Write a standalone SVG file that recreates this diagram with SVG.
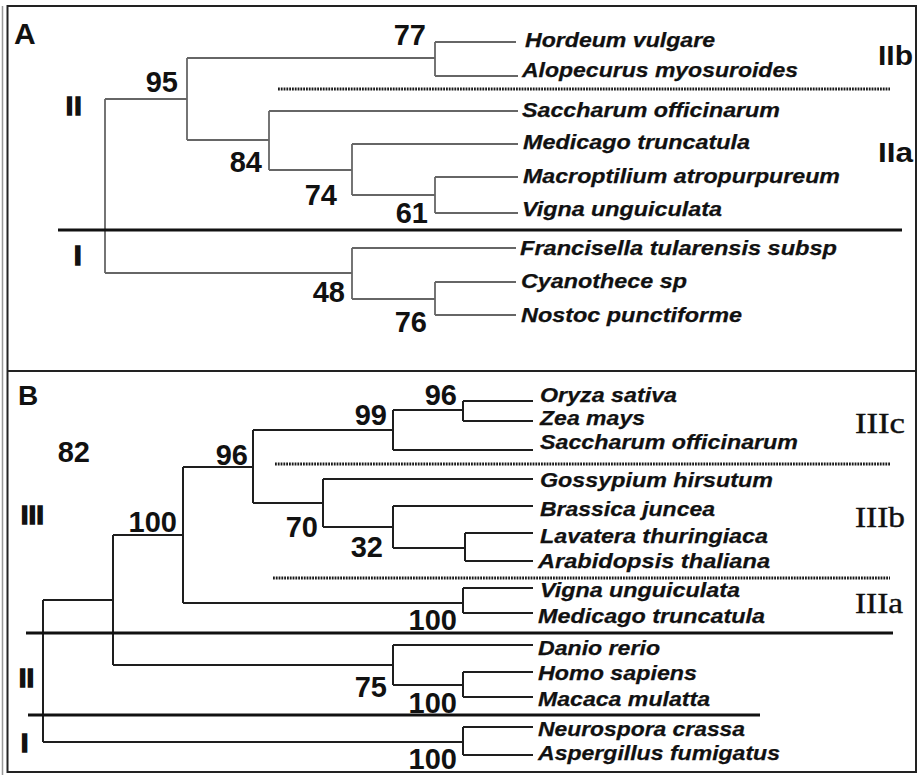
<svg xmlns="http://www.w3.org/2000/svg" width="920" height="775" viewBox="0 0 920 775">
  <defs>
    <style>
      .frame { fill: none; stroke: #222; stroke-width: 2; }
      .edgeA { fill: none; stroke: #666; stroke-width: 1.8; }
      .edgeB { fill: none; stroke: #1e1e1e; stroke-width: 2; }
      .divider { stroke: #111; stroke-width: 3; }
      .dotted { stroke: #1a1a1a; stroke-width: 3; stroke-dasharray: 1.8 1; }
      .taxon { font-family: "Liberation Sans", Arial, sans-serif; font-weight: bold; font-style: italic; fill: #111; stroke: #111; stroke-width: 0.25; }
      .taxA { font-size: 20px; }
      .taxB { font-size: 21px; }
      .boot { font-family: "Liberation Sans", Arial, sans-serif; font-weight: bold; font-size: 29px; fill: #111; text-anchor: end; }
      .clade { font-family: "Liberation Sans", Arial, sans-serif; font-weight: bold; fill: #111; }
      .heavy { stroke: #111; stroke-width: 1.6; }
      .serif { font-family: "Liberation Serif", "Times New Roman", serif; font-size: 30px; fill: #111; stroke: #111; stroke-width: 0.4; }
    </style>
  </defs>
  <rect width="920" height="775" fill="#fff"/>

  <!-- outer frame and panel divider -->
  <g id="frame">
    <line x1="2.5" y1="6" x2="2.5" y2="775" stroke="#999" stroke-width="1.5"/>
    <rect class="frame" x="7.5" y="6" width="908.5" height="766"/>
    <line x1="7.5" y1="371" x2="916" y2="371" stroke="#222" stroke-width="2"/>
  </g>

  <!-- ===== Panel A ===== -->
  <g id="panelA-connectors">
    <path class="edgeA" d="M105,99 V273 M105,99 H187 M105,273 H352"/>
    <path class="edgeA" d="M187,58 V140 M187,58 H435 M187,140 H269"/>
    <path class="edgeA" d="M435,42 V76 M435,42 H516 M435,76 H518"/>
    <path class="edgeA" d="M269,111 V170 M269,111 H518 M269,170 H352"/>
    <path class="edgeA" d="M352,144 V195 M352,144 H518 M352,195 H435"/>
    <path class="edgeA" d="M435,177 V213 M435,177 H518 M435,213 H518"/>
    <path class="edgeA" d="M352,248 V299 M352,248 H516 M352,299 H435"/>
    <path class="edgeA" d="M435,282 V315 M435,282 H516 M435,315 H516"/>
    <line class="divider" x1="58" y1="230" x2="902" y2="230"/>
    <line class="dotted" x1="278" y1="89" x2="890" y2="89"/>
  </g>

  <g id="panelA-labels">
    <text class="clade" x="14" y="44" font-size="30">A</text>
    <text class="clade heavy" x="66" y="115" font-size="25" letter-spacing="1.5">II</text>
    <text class="clade heavy" x="74" y="265" font-size="27">I</text>
    <text class="clade" x="878" y="65" font-size="28" textLength="35" lengthAdjust="spacingAndGlyphs">IIb</text>
    <text class="clade" x="878" y="162" font-size="28" textLength="35" lengthAdjust="spacingAndGlyphs">IIa</text>
  </g>

  <g id="panelA-support">
    <text class="boot" x="426" y="45">77</text>
    <text class="boot" x="178" y="92">95</text>
    <text class="boot" x="262" y="172">84</text>
    <text class="boot" x="337" y="205">74</text>
    <text class="boot" x="428" y="223">61</text>
    <text class="boot" x="345" y="302">48</text>
    <text class="boot" x="427" y="332">76</text>
  </g>

  <g id="panelA-taxa">
    <text id="a-hordeum" class="taxon taxA" x="525" y="47" textLength="190" lengthAdjust="spacingAndGlyphs">Hordeum vulgare</text>
    <text id="a-alopecurus" class="taxon taxA" x="522" y="77" textLength="276" lengthAdjust="spacingAndGlyphs">Alopecurus myosuroides</text>
    <text id="a-saccharum" class="taxon taxA" x="522" y="117" textLength="258" lengthAdjust="spacingAndGlyphs">Saccharum officinarum</text>
    <text id="a-medicago" class="taxon taxA" x="523" y="149" textLength="227" lengthAdjust="spacingAndGlyphs">Medicago truncatula</text>
    <text id="a-macroptilium" class="taxon taxA" x="523" y="183" textLength="317" lengthAdjust="spacingAndGlyphs">Macroptilium atropurpureum</text>
    <text id="a-vigna" class="taxon taxA" x="522" y="216" textLength="200" lengthAdjust="spacingAndGlyphs">Vigna unguiculata</text>
    <text id="a-francisella" class="taxon taxA" x="520" y="255" textLength="317" lengthAdjust="spacingAndGlyphs">Francisella tularensis subsp</text>
    <text id="a-cyanothece" class="taxon taxA" x="521" y="288" textLength="166" lengthAdjust="spacingAndGlyphs">Cyanothece sp</text>
    <text id="a-nostoc" class="taxon taxA" x="521" y="322" textLength="221" lengthAdjust="spacingAndGlyphs">Nostoc punctiforme</text>
  </g>

  <!-- ===== Panel B ===== -->
  <g id="panelB-connectors">
    <path class="edgeB" d="M43,600 V742 M43,600 H113 M43,742 H463"/>
    <path class="edgeB" d="M113,535 V665 M113,535 H183 M113,665 H393"/>
    <path class="edgeB" d="M183,467 V603 M183,467 H253 M183,603 H463"/>
    <path class="edgeB" d="M253,430 V503 M253,430 H393 M253,503 H323"/>
    <path class="edgeB" d="M393,410 V450 M393,410 H463 M393,450 H533"/>
    <path class="edgeB" d="M463,401 V421 M463,401 H533 M463,421 H533"/>
    <path class="edgeB" d="M323,479 V527 M323,479 H533 M323,527 H393"/>
    <path class="edgeB" d="M393,506 V548 M393,506 H533 M393,548 H465"/>
    <path class="edgeB" d="M465,533 V561 M465,533 H533 M465,561 H533"/>
    <path class="edgeB" d="M463,588 V613 M463,588 H533 M463,613 H533"/>
    <path class="edgeB" d="M393,645 V685 M393,645 H533 M393,685 H463"/>
    <path class="edgeB" d="M463,672 V697 M463,672 H533 M463,697 H533"/>
    <path class="edgeB" d="M463,727 V755 M463,727 H533 M463,755 H533"/>
    <line class="divider" x1="26" y1="633" x2="893" y2="633"/>
    <line class="divider" x1="28" y1="715" x2="760" y2="715"/>
    <line class="dotted" x1="275" y1="464" x2="890" y2="464"/>
    <line class="dotted" x1="273" y1="578" x2="890" y2="578"/>
  </g>

  <g id="panelB-labels">
    <text class="clade" x="18" y="405" font-size="28">B</text>
    <text class="clade heavy" x="21" y="524" font-size="26" letter-spacing="0.5">III</text>
    <text class="clade heavy" x="19" y="687" font-size="26" letter-spacing="0.5">II</text>
    <text class="clade heavy" x="21" y="752" font-size="26">I</text>
    <text class="serif" x="855" y="433" textLength="50" lengthAdjust="spacingAndGlyphs">IIIc</text>
    <text class="serif" x="855" y="527" textLength="50" lengthAdjust="spacingAndGlyphs">IIIb</text>
    <text class="serif" x="855" y="613" textLength="48" lengthAdjust="spacingAndGlyphs">IIIa</text>
  </g>

  <g id="panelB-support">
    <text class="boot" x="90" y="462">82</text>
    <text class="boot" x="177" y="532">100</text>
    <text class="boot" x="248" y="465">96</text>
    <text class="boot" x="387" y="425">99</text>
    <text class="boot" x="457" y="405">96</text>
    <text class="boot" x="318" y="537">70</text>
    <text class="boot" x="383" y="557">32</text>
    <text class="boot" x="457" y="630">100</text>
    <text class="boot" x="387" y="697">75</text>
    <text class="boot" x="457" y="713">100</text>
    <text class="boot" x="457" y="769">100</text>
  </g>

  <g id="panelB-taxa">
    <text id="b-oryza" class="taxon taxB" x="540" y="402" textLength="137" lengthAdjust="spacingAndGlyphs">Oryza sativa</text>
    <text id="b-zea" class="taxon taxB" x="540" y="425" textLength="105" lengthAdjust="spacingAndGlyphs">Zea mays</text>
    <text id="b-saccharum" class="taxon taxB" x="540" y="449" textLength="258" lengthAdjust="spacingAndGlyphs">Saccharum officinarum</text>
    <text id="b-gossypium" class="taxon taxB" x="540" y="487" textLength="233" lengthAdjust="spacingAndGlyphs">Gossypium hirsutum</text>
    <text id="b-brassica" class="taxon taxB" x="540" y="516" textLength="175" lengthAdjust="spacingAndGlyphs">Brassica juncea</text>
    <text id="b-lavatera" class="taxon taxB" x="540" y="543" textLength="228" lengthAdjust="spacingAndGlyphs">Lavatera thuringiaca</text>
    <text id="b-arabidopsis" class="taxon taxB" x="538" y="568" textLength="232" lengthAdjust="spacingAndGlyphs">Arabidopsis thaliana</text>
    <text id="b-vigna" class="taxon taxB" x="540" y="597" textLength="200" lengthAdjust="spacingAndGlyphs">Vigna unguiculata</text>
    <text id="b-medicago" class="taxon taxB" x="538" y="623" textLength="227" lengthAdjust="spacingAndGlyphs">Medicago truncatula</text>
    <text id="b-danio" class="taxon taxB" x="538" y="655" textLength="122" lengthAdjust="spacingAndGlyphs">Danio rerio</text>
    <text id="b-homo" class="taxon taxB" x="538" y="680" textLength="159" lengthAdjust="spacingAndGlyphs">Homo sapiens</text>
    <text id="b-macaca" class="taxon taxB" x="538" y="706" textLength="172" lengthAdjust="spacingAndGlyphs">Macaca mulatta</text>
    <text id="b-neurospora" class="taxon taxB" x="538" y="736" textLength="207" lengthAdjust="spacingAndGlyphs">Neurospora crassa</text>
    <text id="b-aspergillus" class="taxon taxB" x="538" y="760" textLength="242" lengthAdjust="spacingAndGlyphs">Aspergillus fumigatus</text>
  </g>
</svg>
